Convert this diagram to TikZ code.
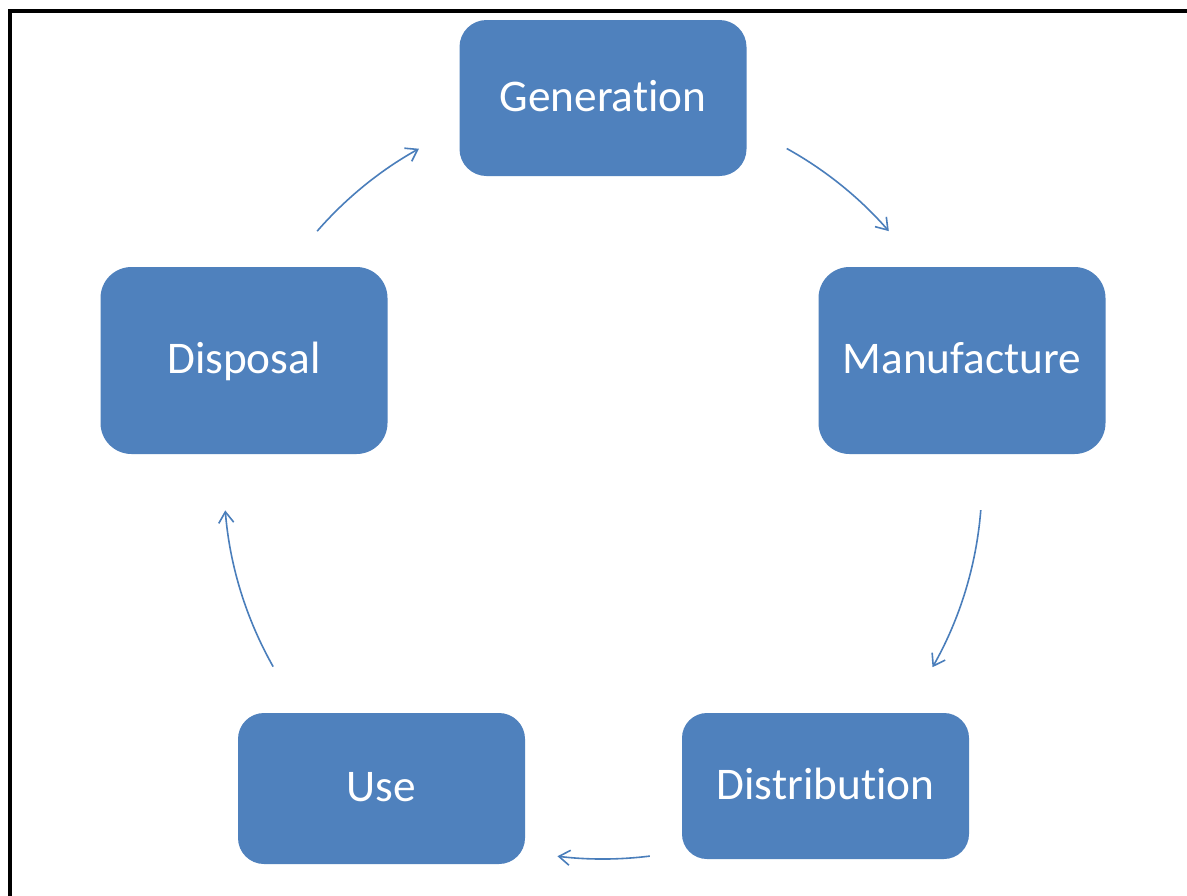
\documentclass[tikz,border=0pt]{standalone}
\usepackage{fontspec}
\setmainfont{Carlito}[Ligatures=NoCommon]
\usetikzlibrary{arrows.meta}
\definecolor{boxblue}{HTML}{4F81BD}
\definecolor{arrowblue}{HTML}{4A7EBB}
\begin{document}
\begin{tikzpicture}[x=1pt,y=1pt,
  stage/.style={fill=boxblue, text=white, inner sep=0pt, minimum width=287pt,
    font=\fontsize{45.3}{54}\selectfont, text height=26pt, text depth=0pt},
  flow/.style={draw=arrowblue, line width=1.6pt,
    -{Straight Barb[length=11pt,width=15pt,line width=1.6pt]}}]
\useasboundingbox (0,0) rectangle (1187,-895);
\clip (0,0) rectangle (1187,-895);
\fill[white] (0,0) rectangle (1187,-895);
\draw[line width=4pt] (9.5,-1000) -- (9.5,-11) -- (1300,-11);

\node[stage, minimum height=156pt, rounded corners=27pt] (gen) at (603,-98) {Generation};
\node[stage, minimum height=187pt, rounded corners=31pt] (man) at (962,-360.5) {Manufacture};
\node[stage, minimum height=146pt, rounded corners=25pt] (dis) at (825.5,-786) {Distribution};
\node[stage, minimum height=151pt, rounded corners=26pt] (use) at (381.5,-788.5) {Use};
\node[stage, minimum height=187pt, rounded corners=31pt] (dsp) at (244,-360.5) {Disposal};

\coordinate (c) at (603,-480);
\draw[flow] ([shift={(138.96:379)}]c) arc[start angle=138.96, end angle=119.06, radius=379];
\draw[flow] ([shift={(61.0:379)}]c) arc[start angle=61.0, end angle=41.05, radius=379];
\draw[flow] ([shift={(-4.55:379)}]c) arc[start angle=-4.55, end angle=-29.6, radius=379];
\draw[flow] ([shift={(-82.9:379)}]c) arc[start angle=-82.9, end angle=-96.9, radius=379];
\draw[flow] ([shift={(209.5:379)}]c) arc[start angle=209.5, end angle=184.6, radius=379];
\end{tikzpicture}
\end{document}
